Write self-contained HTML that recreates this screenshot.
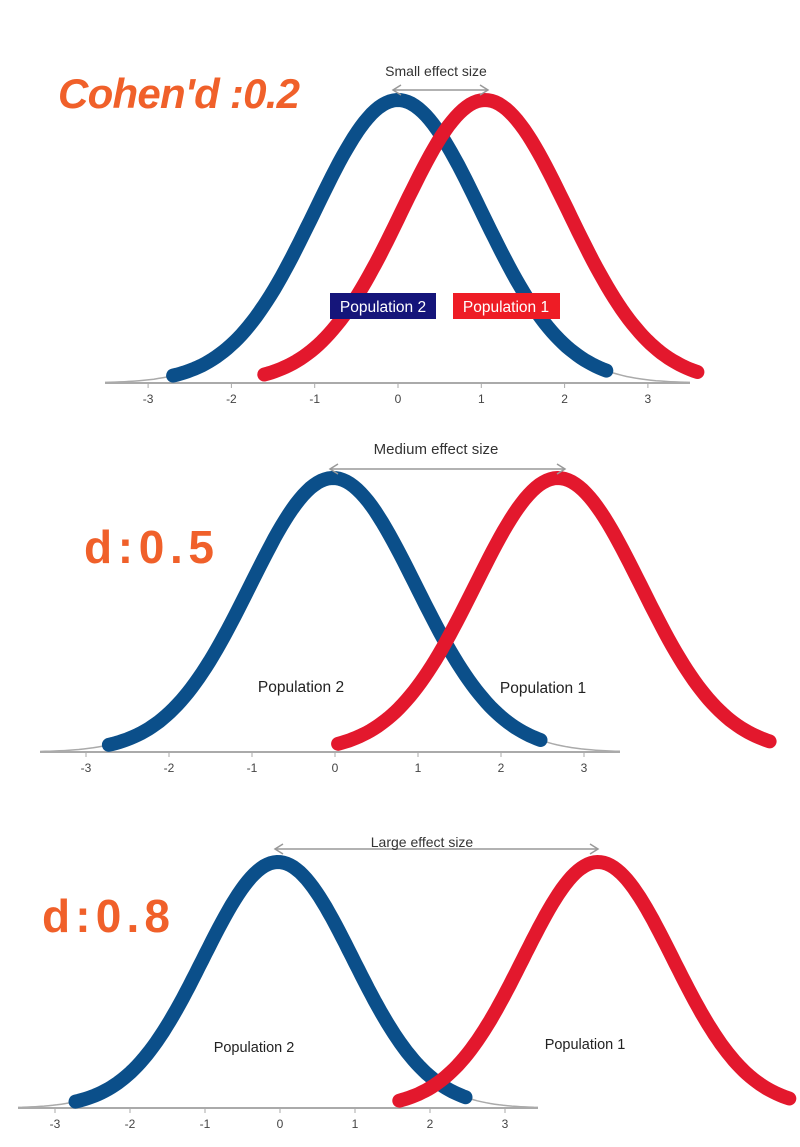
<!DOCTYPE html>
<html><head><meta charset="utf-8"><style>
body{margin:0;background:#fff;width:800px;height:1147px;overflow:hidden}
svg{display:block}
text{font-family:"Liberation Sans",sans-serif}
.hw{font-family:"Liberation Sans",sans-serif;font-weight:bold;fill:#f0602a}
</style></head><body>
<svg id="s" width="800" height="1147" viewBox="0 0 800 1147" xmlns="http://www.w3.org/2000/svg">
<g id="g"></g>
<text class="hw" x="58" y="108" font-size="42" font-style="italic" textLength="242">Cohen'd :0.2</text>
<text class="hw" x="84" y="563" font-size="46" textLength="130">d:0.5</text>
<text class="hw" x="42" y="932" font-size="46" textLength="128">d:0.8</text>
<text x="436" y="76" font-size="14" text-anchor="middle" fill="#333">Small effect size</text>
<text x="436" y="454" font-size="15" text-anchor="middle" fill="#333">Medium effect size</text>
<text x="422" y="847" font-size="14" text-anchor="middle" fill="#333">Large effect size</text>
<rect x="330" y="293" width="106" height="26" fill="#15157a"/>
<text x="383" y="312" font-size="15.5" text-anchor="middle" fill="#fff">Population 2</text>
<rect x="453" y="293" width="107" height="26" fill="#ee1c25"/>
<text x="506" y="312" font-size="15.5" text-anchor="middle" fill="#fff">Population 1</text>
<text x="301" y="692" font-size="15.5" text-anchor="middle" fill="#222">Population 2</text>
<text x="543" y="693" font-size="15.5" text-anchor="middle" fill="#222">Population 1</text>
<text x="254" y="1052" font-size="14.5" text-anchor="middle" fill="#222">Population 2</text>
<text x="585" y="1049" font-size="14.5" text-anchor="middle" fill="#222">Population 1</text>
</svg>
<script>
var g=document.getElementById('g'),NS='http://www.w3.org/2000/svg';
function el(t,a){var e=document.createElementNS(NS,t);for(var k in a)e.setAttribute(k,a[k]);g.appendChild(e);return e;}
function curve(mu,sig,base,amp,a,b){var d='';for(var i=0;i<=120;i++){var x=a+(b-a)*i/120;var z=(x-mu)/sig;var y=base-amp*Math.exp(-z*z/2);d+=(i?'L':'M')+x.toFixed(1)+' '+y.toFixed(1);}return d;}
function panel(p){
 el('line',{x1:p.ax0,y1:p.base,x2:p.ax1,y2:p.base,stroke:'#aaa','stroke-width':2});
 for(var i=-3;i<=3;i++){var x=p.zero+i*p.u;el('line',{x1:x,y1:p.base,x2:x,y2:p.base+5,stroke:'#aaa','stroke-width':1});
  var t=el('text',{x:x,y:p.base+20,'font-size':12,'text-anchor':'middle',fill:'#444'});t.textContent=(i<0?'-':'')+Math.abs(i);}
 el('path',{d:curve(p.bm,p.u,p.base,p.amp,p.ax0,p.ax1),fill:'none',stroke:'#aaa','stroke-width':1.5});
 el('path',{d:curve(p.bm,p.u,p.base,p.amp,p.bm-2.7*p.u,p.bm+2.5*p.u),fill:'none',stroke:'#0b4f8a','stroke-width':14,'stroke-linecap':'round'});
 el('path',{d:curve(p.rm,p.u,p.base,p.amp,p.rm-2.65*p.u,p.rm+2.55*p.u),fill:'none',stroke:'#e3182d','stroke-width':14,'stroke-linecap':'round'});
 el('line',{x1:p.a0,y1:p.ay,x2:p.a1,y2:p.ay,stroke:'#999','stroke-width':1.5});
 el('path',{d:'M'+(p.a0+8)+' '+(p.ay-5)+'L'+p.a0+' '+p.ay+'L'+(p.a0+8)+' '+(p.ay+5)+'M'+(p.a1-8)+' '+(p.ay-5)+'L'+p.a1+' '+p.ay+'L'+(p.a1-8)+' '+(p.ay+5),fill:'none',stroke:'#999','stroke-width':1.5});
}
panel({ax0:105,ax1:690,base:383,zero:398,u:83.3,bm:398,rm:485,amp:283,a0:393,a1:488,ay:90});
panel({ax0:40,ax1:620,base:752,zero:335,u:83,bm:333,rm:558,amp:274,a0:330,a1:565,ay:469});
panel({ax0:18,ax1:538,base:1108,zero:280,u:75,bm:278,rm:598,amp:246,a0:275,a1:598,ay:849});
</script>
</body></html>
